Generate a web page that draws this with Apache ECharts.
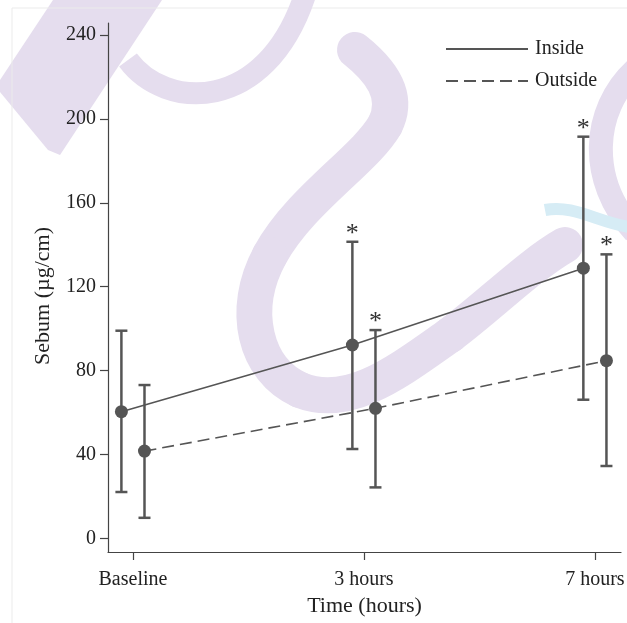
<!DOCTYPE html>
<html>
<head>
<meta charset="utf-8">
<title>Sebum</title>
<script src="https://cdn.jsdelivr.net/npm/echarts@6/dist/echarts.min.js"></script>
<style>
	html, body {margin:0; padding:0; background:#fff;}
	#chart {width:627px; height:623px;}
</style>
</head>
<body>
<div id="chart"></div>
<script>
// 数据
var categories = ['Baseline', '3 hours', '7 hours'];
var yTicks = [0, 40, 80, 120, 160, 200, 240];
var insideMean = [60.4, 92.2, 128.8];
var insideLow = [22.1, 42.6, 66.1];
var insideHigh = [99.0, 141.4, 191.5];
var insideStar = [0, 1, 1];
var outsideMean = [41.6, 62.0, 84.7];
var outsideLow = [9.8, 24.3, 34.5];
var outsideHigh = [73.1, 99.3, 135.4];
var outsideStar = [0, 1, 1];

var shift = 0.05; // 两组点左右错开
var font = 'Liberation Serif';
var ink = '#555';

function points(mean, dx){
	return mean.map(function(v, i){ return [i + dx, v]; });
}
function bars(low, high, star, dx){
	return low.map(function(v, i){ return [i + dx, v, high[i], star[i]]; });
}

// 误差线 + 星号
function renderBar(params, api){
	var x = api.value(0);
	var lo = api.coord([x, api.value(1)]);
	var hi = api.coord([x, api.value(2)]);
	var half = 6;
	var st = {stroke: ink, lineWidth: 2.5};
	var children = [
		{type:'line', shape:{x1:lo[0], y1:lo[1], x2:hi[0], y2:hi[1]}, style:st},
		{type:'line', shape:{x1:lo[0]-half, y1:lo[1], x2:lo[0]+half, y2:lo[1]}, style:st},
		{type:'line', shape:{x1:hi[0]-half, y1:hi[1], x2:hi[0]+half, y2:hi[1]}, style:st}
	];
	if(api.value(3)){
		children.push({
			type:'text',
			style:{text:'*', x:hi[0], y:hi[1]-8, textAlign:'center', textVerticalAlign:'middle',
				fontSize:26, fontFamily:font, fill:'#333'}
		});
	}
	return {type:'group', children:children};
}

// 背景水印：用几段贝塞尔曲线拼出来
var purple = '#e5ddee';
function stroke(segs, color, width, cap){
	return segs.map(function(s){
		return {type:'bezierCurve', z:-1,
			shape:{x1:s[0], y1:s[1], cpx1:s[2], cpy1:s[3], cpx2:s[4], cpy2:s[5], x2:s[6], y2:s[7]},
			style:{fill:null, stroke:color, lineWidth:width, lineCap:cap || 'round'}};
	});
}
var watermark = [
	{type:'polygon', z:-1, shape:{points:[[53,0],[162,0],[60,155],[48,150],[0,92],[0,80]]}, style:{fill:purple}},
	{type:'rect', z:-1, shape:{x:12, y:8, width:630, height:630}, style:{fill:null, stroke:'#ebebeb', lineWidth:1}},
	{type:'text', style:{text:'Sebum (µg/cm)', x:0, y:0, textAlign:'center', textVerticalAlign:'middle',
		fontSize:22, fontFamily:font, fill:'#222'}, rotation:Math.PI/2, x:43, y:296}
]
.concat(stroke([[128,60, 165,110, 265,115, 305,-5]], purple, 22, 'butt'))
.concat(stroke([
	[355,50, 380,70, 400,95, 385,125],
	[385,125, 365,160, 300,200, 270,255],
	[270,255, 240,310, 255,370, 300,390],
	[300,390, 350,410, 400,370, 450,335],
	[450,335, 490,305, 530,265, 565,245]
], purple, 36))
.concat(stroke([[635,70, 592,110, 587,180, 635,232]], purple, 24, 'butt'))
.concat(stroke([[545,210, 575,204, 600,224, 635,228]], '#d6ecf5', 12, 'butt'));

var chart = echarts.init(document.getElementById('chart'));
var option = {
	animation:false,
	backgroundColor:'#fff',
	graphic:watermark,
	grid:{left:108, right:6, top:23, bottom:71, outerBoundsMode:'none'},
	legend:{
		orient:'vertical', left:440, top:34,
		itemWidth:82, itemHeight:14, itemGap:12,
		itemStyle:{opacity:0},
		textStyle:{fontFamily:font, fontSize:20, color:'#222', padding:[0,0,0,2]},
		data:['Inside', 'Outside']
	},
	xAxis:{
		type:'value', min:-0.108, max:2.113,
		splitLine:{show:false},
		axisLine:{onZero:false, lineStyle:{color:'#444', width:1.2}},
		axisTick:{show:true, length:8, lineStyle:{color:'#444', width:1.2}, customValues:[0, 1, 2]},
		axisLabel:{customValues:[0, 1, 2], margin:18, fontFamily:font, fontSize:20, color:'#222',
			formatter:function(v){ return categories[Math.round(v)]; }},
		name:'Time (hours)', nameLocation:'middle', nameGap:36,
		nameTextStyle:{fontFamily:font, fontSize:22, color:'#222'}
	},
	yAxis:{
		type:'value', min:-6.5, max:245.7,
		splitLine:{show:false},
		axisLine:{show:true, onZero:false, lineStyle:{color:'#444', width:1.2}},
		axisTick:{show:true, length:8, lineStyle:{color:'#444', width:1.2}, customValues:yTicks},
		axisLabel:{customValues:yTicks, margin:12, fontFamily:font, fontSize:20, color:'#222', padding:[4,0,0,0]}
	},
	series:[
		{
			name:'Inside', type:'line', data:points(insideMean, -shift),
			symbol:'circle', symbolSize:13, itemStyle:{color:ink},
			lineStyle:{color:ink, width:1.6}, z:4
		},
		{
			name:'Outside', type:'line', data:points(outsideMean, shift),
			symbol:'circle', symbolSize:13, itemStyle:{color:ink},
			lineStyle:{color:ink, width:1.6, type:[12, 6]}, z:4
		},
		{type:'custom', renderItem:renderBar, data:bars(insideLow, insideHigh, insideStar, -shift), z:3},
		{type:'custom', renderItem:renderBar, data:bars(outsideLow, outsideHigh, outsideStar, shift), z:3}
	]
};
chart.setOption(option);
</script>
</body>
</html>
